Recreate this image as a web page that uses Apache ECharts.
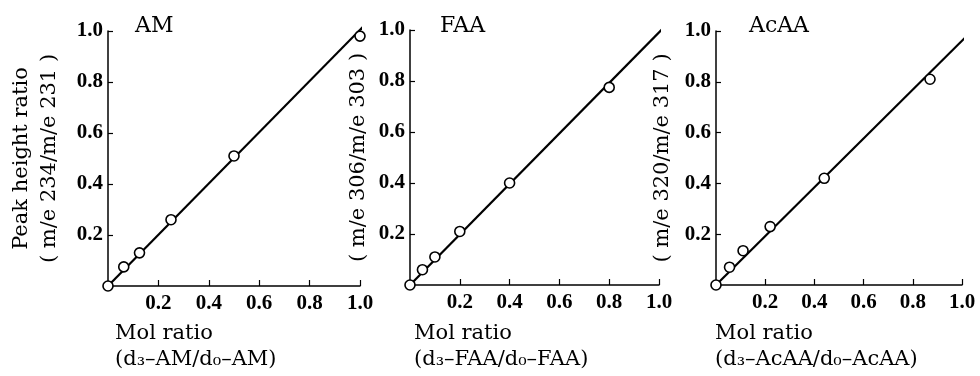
<!DOCTYPE html>
<html>
<head>
<meta charset="utf-8">
<script src="https://cdn.jsdelivr.net/npm/echarts@6/dist/echarts.min.js"></script>
<style>
  html, body { margin: 0; padding: 0; background: #fff; }
  #chart { width: 980px; height: 376px; }
</style>
</head>
<body>
<div id="chart"></div>
<script>
// measured points (mol ratio vs peak height ratio)
const amX = [0, 0.0625, 0.125, 0.25, 0.5, 1.0];
const amY = [0, 0.075, 0.13, 0.26, 0.51, 0.98];
const faaX = [0, 0.05, 0.1, 0.2, 0.4, 0.8];
const faaY = [0, 0.06, 0.11, 0.21, 0.40, 0.775];
const acaaX = [0, 0.055, 0.11, 0.22, 0.44, 0.87];
const acaaY = [0, 0.07, 0.135, 0.23, 0.42, 0.81];

// fitted lines (start, end)
const amFit = [[0, 0], [1.03, 1.035]];
const faaFit = [[0, 0], [1.045, 1.035]];
const acaaFit = [[0, 0], [1.04, 1.0]];

const panelNames = ['AM', 'FAA', 'AcAA'];
const yNames = [
  'Peak height ratio\n( m/e 234/m/e 231 )',
  '( m/e 306/m/e 303 )',
  '( m/e 320/m/e 317 )'
];
const xNames = [
  'Mol ratio\n(d₃–AM/d₀–AM)',
  'Mol ratio\n(d₃–FAA/d₀–FAA)',
  'Mol ratio\n(d₃–AcAA/d₀–AcAA)'
];

const TICK_FONT = '"Liberation Serif", serif';
const FONT = '"DejaVu Serif", serif';

const grids = [
  { left: 108, top: 31, width: 252, height: 255 },
  { left: 410, top: 30, width: 249, height: 255 },
  { left: 716, top: 31, width: 246, height: 254 }
];
const nameGaps = [44, 37, 39];
const titlePos = [[135, 13], [440, 13], [749, 13]];
const xNamePos = [[115, 321], [414, 321], [715, 321]];

function axisBase(i) {
  return {
    type: 'value',
    gridIndex: i,
    min: 0,
    max: 1,
    interval: 0.2,
    splitLine: { show: false },
    axisLine: { show: true, onZero: false, lineStyle: { color: '#000', width: 1.5 } },
    axisTick: { show: true, inside: true, length: 6, lineStyle: { color: '#000', width: 1.2 } },
    axisLabel: {
      show: true,
      showMinLabel: false,
      formatter: v => v.toFixed(1),
      color: '#000',
      fontFamily: TICK_FONT,
      fontWeight: 'bold',
      fontSize: 21
    }
  };
}

const xAxes = grids.map((g, i) => {
  const a = axisBase(i);
  a.axisLabel.margin = 7;
  return a;
});
const yAxes = grids.map((g, i) => {
  const a = axisBase(i);
  a.axisLabel.margin = 5;
  a.axisTick.length = 5;
  a.name = yNames[i];
  a.nameLocation = 'middle';
  a.nameRotate = 90;
  a.nameGap = nameGaps[i];
  a.nameTextStyle = { color: '#000', fontFamily: FONT, fontSize: 21, lineHeight: 28 };
  return a;
});

function pairs(xs, ys) {
  return xs.map((x, k) => [x, ys[k]]);
}

const sets = [
  { pts: pairs(amX, amY), fit: amFit },
  { pts: pairs(faaX, faaY), fit: faaFit },
  { pts: pairs(acaaX, acaaY), fit: acaaFit }
];

const series = [];
sets.forEach((s, i) => {
  series.push({
    type: 'line',
    xAxisIndex: i,
    yAxisIndex: i,
    data: s.fit,
    clip: false,
    symbol: 'none',
    lineStyle: { color: '#000', width: 2.2 },
    z: 2
  });
  series.push({
    type: 'scatter',
    xAxisIndex: i,
    yAxisIndex: i,
    data: s.pts,
    clip: false,
    symbol: 'circle',
    symbolSize: 10,
    itemStyle: { color: '#fff', borderColor: '#000', borderWidth: 1.6, opacity: 1 },
    z: 3
  });
});

const titles = [];
panelNames.forEach((t, i) => {
  titles.push({
    text: t,
    left: titlePos[i][0],
    top: titlePos[i][1],
    padding: 0,
    textStyle: { color: '#000', fontFamily: FONT, fontWeight: 'normal', fontSize: 22, lineHeight: 26 }
  });
  titles.push({
    text: xNames[i],
    left: xNamePos[i][0],
    top: xNamePos[i][1],
    padding: 0,
    textStyle: { color: '#000', fontFamily: FONT, fontWeight: 'normal', fontSize: 21, lineHeight: 26 }
  });
});

const chart = echarts.init(document.getElementById('chart'));
chart.setOption({
  animation: false,
  backgroundColor: '#fff',
  title: titles,
  grid: grids,
  xAxis: xAxes,
  yAxis: yAxes,
  series: series
});
</script>
</body>
</html>
